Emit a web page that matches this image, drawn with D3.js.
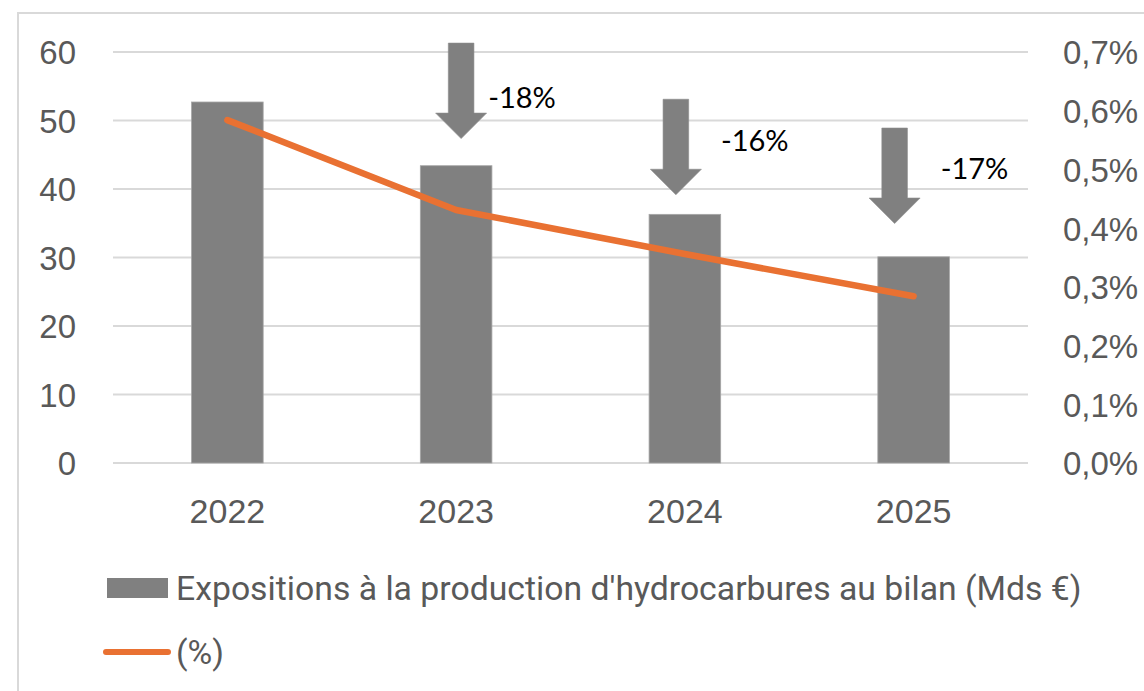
<!DOCTYPE html>
<html><head><meta charset="utf-8">
<script src="https://cdn.jsdelivr.net/npm/d3@7"></script>
<style>html,body{margin:0;padding:0;background:#fff;}svg{display:block;}</style>
</head><body>
<svg id="chart" width="1144" height="691"></svg>
<script>
// ---- data ----
const categories = ["2022", "2023", "2024", "2025"];
const expositions = [52.7, 43.4, 36.3, 30.1];        // Mds €
const ratio = [0.584, 0.431, 0.356, 0.284];           // %
const changeLabels = [null, "-18%", "-16%", "-17%"];
const leftTicks = [0, 10, 20, 30, 40, 50, 60];
const rightTicks = [0, 0.1, 0.2, 0.3, 0.4, 0.5, 0.6, 0.7];
const barLegend = "Expositions à la production d'hydrocarbures au bilan (Mds €)";
const lineLegend = "(%)";

// ---- annotation layout (arrow/label placement) ----
const annLayout = [
  null,
  {dx: 5,  top: 61.3, labelDx: 32, labelY: 51.8},
  {dx: -9, top: 53.1, labelDx: 36, labelY: 45.5},
  {dx: -19, top: 48.9, labelDx: 27, labelY: 41.4}
];

const svg = d3.select("#chart");
const W = 1144, H = 691;
const plot = {left: 113, right: 1028, top: 52, bottom: 463};
const axisFont = "'Liberation Sans', Arial, sans-serif";
const textColor = "#595959";
const gridColor = "#d9d9d9";

// frame
svg.append("rect").attr("x", 18).attr("y", 13).attr("width", W + 10).attr("height", H + 10)
  .attr("fill", "none").attr("stroke", gridColor).attr("stroke-width", 2);

const x = d3.scaleBand().domain(categories).range([plot.left, plot.right]).padding(0);
const y = d3.scaleLinear().domain([0, 60]).range([plot.bottom, plot.top]);
const y2 = d3.scaleLinear().domain([0, 0.7]).range([plot.bottom, plot.top]);

// gridlines
svg.append("g").selectAll("line").data(leftTicks).join("line")
  .attr("x1", plot.left).attr("x2", plot.right)
  .attr("y1", d => y(d)).attr("y2", d => y(d))
  .attr("stroke", gridColor).attr("stroke-width", 2);

// left axis
const gl = svg.append("g").attr("transform", `translate(${76},0)`)
  .call(d3.axisLeft(y).tickValues(leftTicks).tickSize(0).tickPadding(0).tickFormat(d3.format("d")));
gl.select(".domain").remove();
gl.selectAll("text").attr("font-family", axisFont).attr("font-size", 33).attr("fill", textColor).attr("dy", "0.36em");

// right axis
const fmtPct = d => d3.format(".1f")(d).replace(".", ",") + "%";
const gr = svg.append("g").attr("transform", `translate(${1063},0)`)
  .call(d3.axisRight(y2).tickValues(rightTicks).tickSize(0).tickPadding(0).tickFormat(fmtPct));
gr.select(".domain").remove();
gr.selectAll("text").attr("font-family", axisFont).attr("font-size", 33).attr("fill", textColor).attr("dy", "0.36em");

// x axis labels
const gx = svg.append("g").attr("transform", `translate(0,${plot.bottom})`)
  .call(d3.axisBottom(x).tickSize(0).tickPadding(0));
gx.select(".domain").remove();
gx.selectAll("text").attr("font-family", axisFont).attr("font-size", 34).attr("fill", textColor)
  .attr("dy", 0).attr("y", 60);

// bars
const barW = x.bandwidth() * 0.313;
svg.append("g").selectAll("rect").data(expositions).join("rect")
  .attr("x", (d, i) => x(categories[i]) + x.bandwidth() / 2 - barW / 2)
  .attr("y", d => y(d)).attr("width", barW).attr("height", d => y(0) - y(d))
  .attr("fill", "#808080").attr("stroke", "#a6a6a6").attr("stroke-width", 0.8);

// line
const line = d3.line().x((d, i) => x(categories[i]) + x.bandwidth() / 2).y(d => y2(d));
svg.append("path").datum(ratio).attr("d", line)
  .attr("fill", "none").attr("stroke", "#E97132").attr("stroke-width", 6.5)
  .attr("stroke-linecap", "round").attr("stroke-linejoin", "round");

// arrows + labels
const shaftW = 25.6, headW = 51, headL = 25.5, arrowLen = 95.5;
const ann = svg.append("g");
changeLabels.forEach((lab, i) => {
  if (!lab) return;
  const L = annLayout[i];
  const cx = x(categories[i]) + x.bandwidth() / 2 + L.dx;
  const t = y(L.top), tip = t + arrowLen, hs = tip - headL;
  const pts = [[cx - shaftW / 2, t], [cx + shaftW / 2, t], [cx + shaftW / 2, hs], [cx + headW / 2, hs],
               [cx, tip], [cx - headW / 2, hs], [cx - shaftW / 2, hs]];
  ann.append("path").attr("d", "M" + pts.map(p => p.join(",")).join("L") + "Z")
    .attr("fill", "#808080").attr("stroke", "#8c8c8c").attr("stroke-width", 0.6);
  ann.append("text").attr("x", x(categories[i]) + x.bandwidth() / 2 + L.labelDx).attr("y", y(L.labelY))
    .attr("font-family", "Lato, 'Open Sans', sans-serif").attr("font-size", 29).attr("fill", "#000")
    .text(lab);
});

// legend
const lg = svg.append("g");
lg.append("rect").attr("x", 107).attr("y", 578).attr("width", 61).attr("height", 20).attr("fill", "#808080");
const lt = lg.append("text").attr("x", 176).attr("y", 588).attr("dy", "0.35em")
  .attr("font-family", "Roboto, 'Noto Sans', sans-serif").attr("font-size", 32).attr("fill", textColor)
  .text(barLegend);
// fit legend label to the reference width
const targetW = 906;
const w0 = lt.node().getComputedTextLength();
lt.attr("font-size", 32 * targetW / w0);
lg.append("line").attr("x1", 106).attr("x2", 168).attr("y1", 652).attr("y2", 652)
  .attr("stroke", "#E97132").attr("stroke-width", 6).attr("stroke-linecap", "round");
lg.append("text").attr("x", 176).attr("y", 652).attr("dy", "0.35em")
  .attr("font-family", "Roboto, 'Noto Sans', sans-serif").attr("font-size", 32 * targetW / w0).attr("fill", textColor)
  .text(lineLegend);
</script>
</body></html>
